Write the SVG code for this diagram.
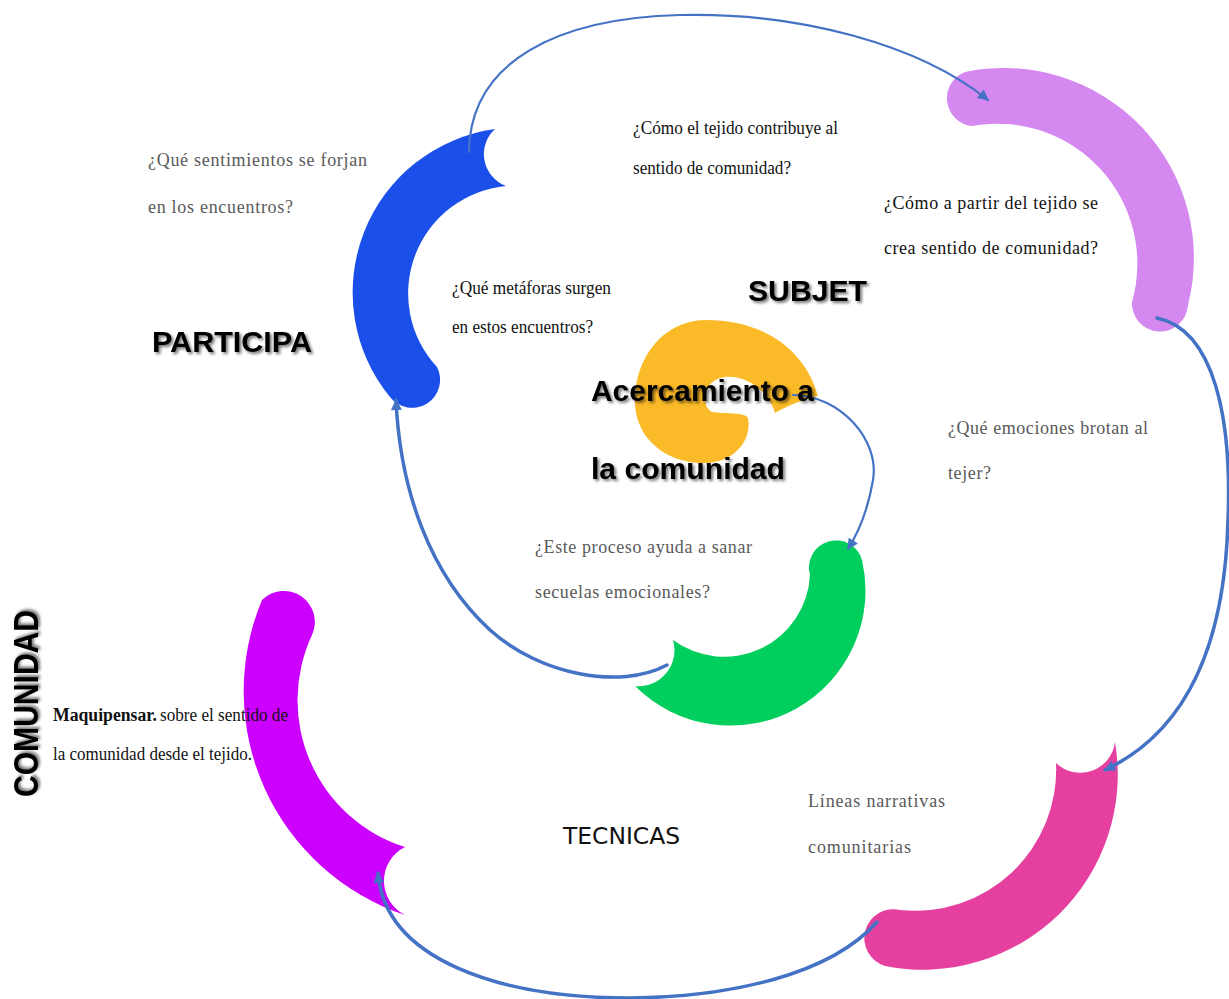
<svg xmlns="http://www.w3.org/2000/svg" width="1229" height="999" viewBox="0 0 1229 999">
<defs>
<style>
.q{font-family:"Liberation Serif","Times New Roman",serif;font-size:18px}
.g{fill:#595959}
.k{fill:#111}
.h{font-family:"Liberation Sans",Arial,sans-serif;font-weight:bold;font-size:30px;fill:#000}
.c{fill:none;stroke:#4472C4;stroke-linecap:round}
.thin{stroke-width:2.2}
.thick{stroke-width:3.5}
</style>
<marker id="ar" viewBox="0 0 10 10" refX="9" refY="5" markerUnits="userSpaceOnUse" markerWidth="13" markerHeight="11" orient="auto">
<path d="M0,0 L10,5 L0,10 z" fill="#4472C4"/>
</marker>
<filter id="sh" x="-10%" y="-40%" width="125%" height="190%">
<feGaussianBlur in="SourceAlpha" stdDeviation="1.6"/>
<feOffset dx="1.5" dy="2" result="b"/>
<feFlood flood-color="#000" flood-opacity="0.55"/>
<feComposite in2="b" operator="in"/>
<feMerge><feMergeNode/><feMergeNode in="SourceGraphic"/></feMerge>
</filter>
</defs>
<rect width="1229" height="999" fill="#fff"/>

<g id="node-yellow">
<path fill="#FBBA27" d="M 818 396 C 805 350 765 320 705 320 C 660 321 633 362 635 405 C 637 440 668 464 705 463 C 735 462 752 440 748 418 C 745 412 725 414 712 412 C 700 405 702 380 725 377 C 750 375 770 395 775 413 C 788 405 805 399 818 396 Z"/>
</g>
<g id="node-blue">
<path fill="#1B4FEA" d="M 495 129 A 165 165 0 0 0 390 397 A 28 28 0 0 0 437 367 A 108 108 0 0 1 506 186 A 34 34 0 0 1 495 129 Z"/>
</g>
<g id="node-violet">
<path fill="#D488F0" d="M 965 72 A 190 190 0 0 1 1188 305 A 28 28 0 0 1 1132 302 A 140 140 0 0 0 972 126 A 28 28 0 0 1 965 72 Z"/>
</g>
<g id="node-pink">
<path fill="#E540A0" d="M 1115 742 A 195 195 0 0 1 885 966 A 29 29 0 0 1 900 910 A 141 141 0 0 0 1056 763 A 35 35 0 0 0 1115 742 Z"/>
</g>
<g id="node-magenta">
<path fill="#CC00FF" d="M 262 600 A 236 236 0 0 0 405 915 A 38 38 0 0 1 405 847 A 154 154 0 0 1 312 635 A 31 31 0 0 0 262 600 Z"/>
</g>
<g id="node-green">
<path fill="#00CF5D" d="M 862 560 A 135 135 0 0 1 635 686 A 36 36 0 0 0 673 640 A 86 86 0 0 0 810 575 A 27 27 0 0 1 862 560 Z"/>
</g>

<g id="connectors">
<path class="c thin" marker-end="url(#ar)" d="M 469 152 C 470 60 560 18 680 15 C 800 12 920 45 988 100"/>
<path class="c thick" marker-end="url(#ar)" d="M 1157 318 C 1215 330 1232 420 1228 520 C 1225 640 1190 730 1105 770"/>
<path class="c thick" marker-end="url(#ar)" d="M 877 922 C 830 975 730 997 630 998 C 500 998 385 960 378 873"/>
<path class="c thick" marker-end="url(#ar)" d="M 667 665 C 620 690 540 675 490 630 C 430 575 400 490 396 400"/>
<path class="c thin" marker-end="url(#ar)" d="M 793 395 C 840 395 880 440 873 480 C 868 510 860 530 848 549"/>
</g>

<g id="label-participa">
<text class="h" x="152" y="352" textLength="160" lengthAdjust="spacingAndGlyphs" filter="url(#sh)">PARTICIPA</text>
</g>
<g id="label-subjet">
<text class="h" x="748" y="301" textLength="119" lengthAdjust="spacingAndGlyphs" filter="url(#sh)">SUBJET</text>
</g>
<g id="label-center">
<text class="h" x="591" y="401" textLength="223" lengthAdjust="spacingAndGlyphs" filter="url(#sh)">Acercamiento a</text>
<text class="h" x="591" y="479" textLength="194" lengthAdjust="spacingAndGlyphs" filter="url(#sh)">la comunidad</text>
</g>
<g id="label-comunidad">
<text class="h" transform="translate(38,797) rotate(-90)" x="0" y="0" style="font-size:35px" textLength="187" lengthAdjust="spacingAndGlyphs" filter="url(#sh)">COMUNIDAD</text>
</g>
<g id="label-tecnicas">
<text x="563" y="844" font-family="'DejaVu Sans','Liberation Sans',sans-serif" font-size="23" fill="#111" textLength="117" lengthAdjust="spacingAndGlyphs">TECNICAS</text>
</g>

<g id="q-sentimientos">
<text class="q g" x="148" y="166" textLength="219" lengthAdjust="spacing">¿Qué sentimientos se forjan</text>
<text class="q g" x="148" y="213" textLength="145" lengthAdjust="spacing">en los encuentros?</text>
</g>
<g id="q-contribuye">
<text class="q k" x="633" y="134" textLength="205" lengthAdjust="spacingAndGlyphs">¿Cómo el tejido contribuye al</text>
<text class="q k" x="633" y="174" textLength="158" lengthAdjust="spacingAndGlyphs">sentido de comunidad?</text>
</g>
<g id="q-partir">
<text class="q k" x="884" y="209" textLength="214" lengthAdjust="spacing">¿Cómo a partir del tejido se</text>
<text class="q k" x="884" y="254" textLength="214" lengthAdjust="spacing">crea sentido de comunidad?</text>
</g>
<g id="q-metaforas">
<text class="q k" x="452" y="294" textLength="159" lengthAdjust="spacingAndGlyphs">¿Qué metáforas surgen</text>
<text class="q k" x="452" y="333" textLength="141" lengthAdjust="spacingAndGlyphs">en estos encuentros?</text>
</g>
<g id="q-emociones">
<text class="q g" x="948" y="434" textLength="200" lengthAdjust="spacing">¿Qué emociones brotan al</text>
<text class="q g" x="948" y="479" textLength="43" lengthAdjust="spacing">tejer?</text>
</g>
<g id="q-sanar">
<text class="q g" x="535" y="553" textLength="217" lengthAdjust="spacing">¿Este proceso ayuda a sanar</text>
<text class="q g" x="535" y="598" textLength="175" lengthAdjust="spacing">secuelas emocionales?</text>
</g>
<g id="q-lineas">
<text class="q g" x="808" y="807" textLength="137" lengthAdjust="spacing">Líneas narrativas</text>
<text class="q g" x="808" y="853" textLength="103" lengthAdjust="spacing">comunitarias</text>
</g>
<g id="q-maquipensar">
<text class="q k" x="53" y="721" font-weight="bold" textLength="104" lengthAdjust="spacingAndGlyphs">Maquipensar.</text>
<text class="q k" x="160" y="721" textLength="128" lengthAdjust="spacingAndGlyphs">sobre el sentido de</text>
<text class="q k" x="53" y="760" textLength="199" lengthAdjust="spacingAndGlyphs">la comunidad  desde el tejido.</text>
</g>
</svg>
